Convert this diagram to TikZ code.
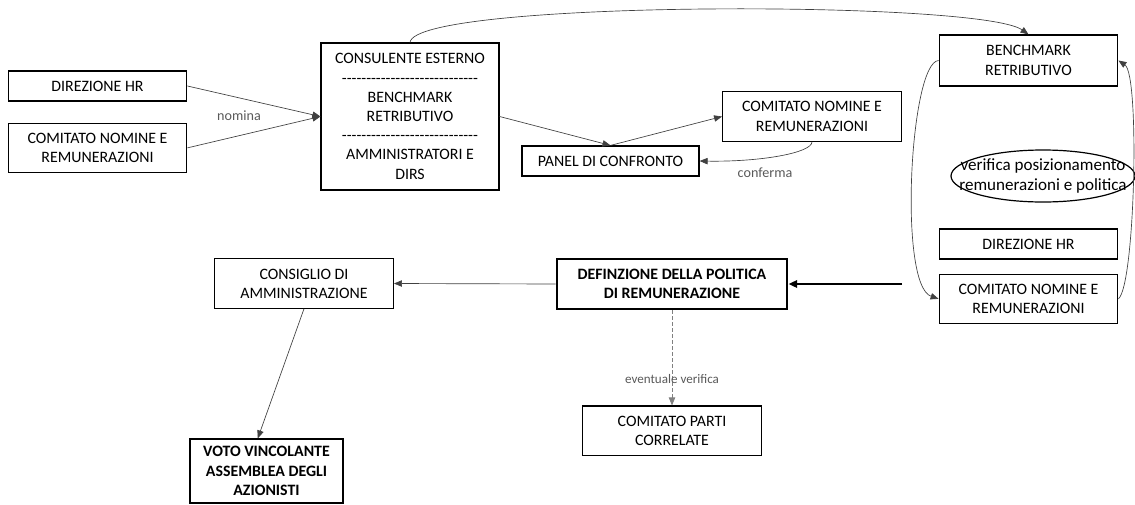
\documentclass[tikz,border=0pt]{standalone}
\usepackage{fontspec}
\setmainfont{Carlito}
\usetikzlibrary{positioning, arrows.meta, calc}
\definecolor{linegray}{HTML}{404040}
\definecolor{labelgray}{HTML}{595959}
\newcommand\hyphenrow{\hbox to 103pt{\cleaders\hbox{-}\hfill}}
\tikzset{
  boxfont/.style={font=\fontsize{11.9}{14.4}\selectfont},
  block/.style={draw, line width=0.9pt, align=center, inner sep=0, minimum width=134pt, minimum height=37pt, boxfont},
  single/.style={block, minimum height=22.5pt},
  policybox/.style={block, line width=2.2pt, font=\fontsize{11.9}{14.4}\selectfont\bfseries},
  bubble/.style={align=center, inner sep=0, font=\fontsize{12.8}{15.2}\selectfont},
  link/.style={-{Triangle[length=6pt, width=4.8pt]}, draw=linegray, line width=0.5pt},
  mainflow/.style={-{Triangle[length=6.5pt, width=5.5pt]}, draw=black, line width=1.6pt},
  optional/.style={link, draw=gray, dash pattern=on 3pt off 1.5pt},
  lbl/.style={text=labelgray, inner sep=0, font=\fontsize{10.6}{12}\selectfont}
}
\begin{document}
\begin{tikzpicture}[x=0.75pt, y=-0.75pt]
  \useasboundingbox (0,0) rectangle (1135,504);
  % who appoints the consultant
  \node[single] (hrleft) at (97.5,86) {DIREZIONE HR};
  \node[block, below=15.75pt of hrleft] (cnrleft) {COMITATO NOMINE E\\REMUNERAZIONI};
  \node[block, minimum width=133.5pt, minimum height=110.25pt] (consul) at (410,116.5)
    {CONSULENTE ESTERNO\\\hyphenrow\\BENCHMARK\\RETRIBUTIVO\\\hyphenrow\\AMMINISTRATORI E\\DIRS};
  \node[lbl] (nomina) at (239,116) {nomina};
  \draw[link] (hrleft.east) -- (consul.west);
  \draw[link] (cnrleft.east) -- (consul.west);
  % panel and confirmation
  \node[single, minimum width=132.75pt] (panel) at (610.5,161) {PANEL DI CONFRONTO};
  \node[block] (cnrmid) at (812,116.5) {COMITATO NOMINE E\\REMUNERAZIONI};
  \draw[link] (consul.east) -- (panel.north);
  \draw[link] (panel.north) -- (cnrmid.west);
  \draw[link] (cnrmid.south) .. controls (812,153) and (760,162) .. (panel.east);
  \node[lbl] (conferma) at (765,173) {conferma};
  % right column
  \node[block, minimum height=38.25pt] (benchright) at (1028.5,60.5) {BENCHMARK\\RETRIBUTIVO};
  \node[bubble] (verifica) at (1043,176) {verifica posizionamento\\remunerazioni e politica};
  \draw[line width=0.9pt] (verifica.center) ellipse [x radius=92, y radius=26];
  \node[single] (hrright) at (1028.5,244) {DIREZIONE HR};
  \node[block, below=10.5pt of hrright] (cnrright) {COMITATO NOMINE E\\REMUNERAZIONI};
  \draw[link] (consul.north) .. controls (415,0) and (980,0) .. (benchright.north);
  \draw[link] (benchright.west) .. controls (910,62) and (898,285) .. (cnrright.west);
  \draw[link] (cnrright.east) .. controls (1135,285) and (1140,75) .. (benchright.east);
  % policy and approval
  \node[policybox, minimum width=172.5pt, minimum height=37.5pt] (policy) at (672,284)
    {DEFINZIONE DELLA POLITICA\\DI REMUNERAZIONE};
  \coordinate (feed) at (902,284);
  \draw[mainflow] (feed) -- (policy.east);
  \node[block] (board) at (304,283.5) {CONSIGLIO DI\\AMMINISTRAZIONE};
  \draw[link] (policy.west) -- (board.east);
  \node[block, minimum width=114.75pt, minimum height=48pt, font=\fontsize{11.9}{14.4}\selectfont\bfseries] (vote) at (266.5,471)
    {VOTO VINCOLANTE\\ASSEMBLEA DEGLI\\AZIONISTI};
  \draw[link] (board.south) -- (vote.105);
  \node[block, below=71.25pt of policy] (related) {COMITATO PARTI\\CORRELATE};
  \draw[optional] (policy.south) -- (related.north)
    node[lbl, pos=0.72, font=\fontsize{9.8}{11}\selectfont] (eventuale) {eventuale verifica};
\end{tikzpicture}
\end{document}
